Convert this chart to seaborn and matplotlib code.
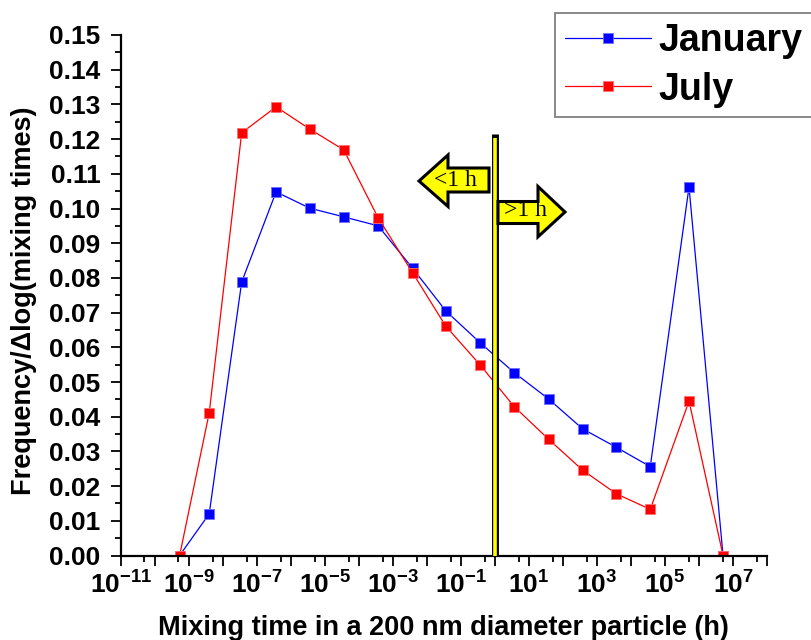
import numpy as np
import pandas as pd
import matplotlib
matplotlib.use("Agg")
import matplotlib.pyplot as plt
import matplotlib.ticker as mticker
from matplotlib.patches import Polygon
import seaborn as sns

# ---------------- data ----------------
mixing_time_h = [5.4e-10, 4.0e-9, 3.6e-8, 3.7e-7, 3.6e-6, 3.6e-5, 3.7e-4, 3.8e-3,
                 3.6e-2, 0.37, 3.7, 38.0, 380.0, 3700.0, 37000.0, 5.1e5, 5.1e6]
january = [0.000, 0.0120, 0.0788, 0.1048, 0.1001, 0.0976, 0.0950, 0.0828, 0.0705,
           0.0613, 0.0527, 0.0451, 0.0365, 0.0312, 0.0256, 0.1062, 0.000]
july = [0.000, 0.0411, 0.1218, 0.1293, 0.1229, 0.1169, 0.0973, 0.0815, 0.0661,
        0.0549, 0.0429, 0.0335, 0.0246, 0.0178, 0.0133, 0.0445, 0.000]
series_names = ["January", "July"]
series_colors = {"January": "#0000ff", "July": "#ff0000"}
marker_edge = {"January": "#7070ff", "July": "#ff7070"}
threshold_h = 1.0
threshold_top = 0.1208
arrow_texts = ["<1 h", ">1 h"]
xtick_exponents = list(range(-11, 9))
xtick_labeled = [-11, -9, -7, -5, -3, -1, 1, 3, 5, 7]
xminor_exponents = list(range(-11, 8))
xlabel = "Mixing time in a 200 nm diameter particle (h)"
ylabel = "Frequency/\u0394log(mixing times)"

df = pd.DataFrame({
    "time": mixing_time_h * 2,
    "freq": january + july,
    "month": ["January"] * len(january) + ["July"] * len(july),
})

# ---------------- style ----------------
sns.set_style("ticks")
plt.rcParams["font.family"] = ["Liberation Sans", "DejaVu Sans"]
plt.rcParams["font.weight"] = "bold"
plt.rcParams["mathtext.fontset"] = "custom"
plt.rcParams["mathtext.bf"] = "Liberation Sans:bold"
plt.rcParams["mathtext.rm"] = "Liberation Sans:bold"
for k in ["text.color", "axes.labelcolor", "xtick.color", "ytick.color", "axes.edgecolor"]:
    plt.rcParams[k] = "black"

W, H = 811, 640
fig = plt.figure(figsize=(W / 100, H / 100), dpi=100)
x0, x1, ytop, ybot = 120.7, 767.0, 35.0, 555.5
ax = fig.add_axes([x0 / W, (H - ybot) / H, (x1 - x0) / W, (ybot - ytop) / H])

for name in series_names:
    sub = df[df["month"] == name]
    sns.lineplot(data=sub, x="time", y="freq", ax=ax, color=series_colors[name],
                 marker="s", markersize=7.6, markeredgecolor=marker_edge[name],
                 markeredgewidth=0.6, linewidth=0.9, label=name, sort=False,
                 estimator=None)

# threshold line at 1 h
ax.vlines([threshold_h], 0, threshold_top + 0.0006, colors="black", linewidth=5.0, zorder=5)
ax.vlines([threshold_h], 0, threshold_top - 0.0006, colors="#ffff00", linewidth=2.6, zorder=6)

ax.set_xscale("log")
ax.set_xlim(1e-11, 1e8)
ax.set_ylim(0, 0.15)

xt = [10.0 ** k for k in xtick_exponents]
xl = [(r"$\mathbf{10^{%d}}$" % k) if k in xtick_labeled else "" for k in xtick_exponents]
ax.set_xticks(xt, xl)
ax.xaxis.set_minor_locator(mticker.FixedLocator([5 * 10.0 ** k for k in xminor_exponents]))
ax.xaxis.set_minor_formatter(mticker.NullFormatter())

ax.yaxis.set_major_locator(mticker.MultipleLocator(0.01))
ax.yaxis.set_minor_locator(mticker.MultipleLocator(0.005))
ax.yaxis.set_major_formatter(mticker.FormatStrFormatter("%.2f"))

ax.tick_params(axis="both", which="major", direction="out", length=7.5, width=1.3,
               labelsize=19, color="black", labelcolor="black")
ax.tick_params(axis="both", which="minor", direction="out", length=4, width=1.3, color="black")
ax.tick_params(axis="y", which="major", pad=7)
ax.tick_params(axis="x", which="major", pad=4)
for lab in ax.get_xticklabels() + ax.get_yticklabels():
    lab.set_fontweight("bold")

for s in ["top", "right"]:
    ax.spines[s].set_visible(False)
for s in ["left", "bottom"]:
    ax.spines[s].set_linewidth(1.6)
    ax.spines[s].set_color("black")

ax.set_xlabel(xlabel, fontsize=19.5, fontweight="bold", color="black")
ax.set_ylabel(ylabel, fontsize=19.5, fontweight="bold", color="black")
ax.xaxis.set_label_coords(0.5, -0.115)
ax.yaxis.set_label_coords((37 - x0) / (x1 - x0), 0.49)

# legend
leg = ax.legend(loc="upper left", bbox_to_anchor=(555 / W, (H - 13) / H),
                bbox_transform=fig.transFigure, fontsize=27, frameon=True,
                fancybox=False, framealpha=1, edgecolor="#808080",
                borderpad=0.26, handlelength=2.3, handletextpad=0.2,
                labelspacing=0.34, borderaxespad=0)
leg.get_frame().set_linewidth(1.3)
for t in leg.get_texts():
    t.set_fontweight("bold")
    t.set_color("black")

# arrows (annotation, figure pixel coordinates)
def fp(pts):
    return [(x / W, 1 - y / H) for x, y in pts]

left_arrow = [(419, 181), (448, 155), (448, 168), (489, 168), (489, 192),
              (448, 192), (448, 206.5)]
right_arrow = [(498, 201.5), (538, 201.5), (538, 186.5), (565, 212),
               (538, 236.8), (538, 223.5), (498, 223.5)]
for pts in (left_arrow, right_arrow):
    fig.add_artist(Polygon(fp(pts), closed=True, facecolor="#ffff00",
                           edgecolor="black", linewidth=2.2,
                           transform=fig.transFigure, zorder=10))
fig.text(455 / W, 1 - 181 / H, arrow_texts[0], ha="center", va="center",
         fontsize=17, family=["Liberation Serif"], fontweight="normal", zorder=11)
fig.text(525 / W, 1 - 211 / H, arrow_texts[1], ha="center", va="center",
         fontsize=17, family=["Liberation Serif"], fontweight="normal", zorder=11)

fig.savefig("out.png", dpi=100)
